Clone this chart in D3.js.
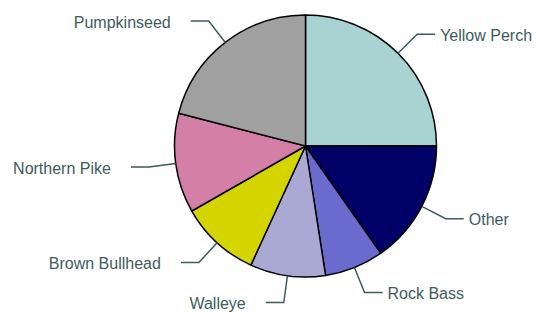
<!DOCTYPE html>
<html>
<head>
<meta charset="utf-8">
<script src="https://cdn.jsdelivr.net/npm/d3@7"></script>
<style>
  body { margin: 0; background: #fff; }
  text { font-family: "Liberation Sans", Arial, sans-serif; }
</style>
</head>
<body>
<div id="chart"></div>
<script>
const width = 539;
const height = 312;

// values (percent of catch), clockwise from 12 o'clock
const species = ["Yellow Perch", "Other", "Rock Bass", "Walleye", "Brown Bullhead", "Northern Pike", "Pumpkinseed"];
const shares = [25, 15.3, 7.3, 9.3, 9.9, 12.3, 21];
const colors = ["#a9d3d3", "#000066", "#6b6bcf", "#a9a9d4", "#d4d400", "#d47fa8", "#a0a0a0"];

const labelColor = "#3d5c5c";

const cx = 305.5, cy = 146;
const radius = 131;
const elbowRadius = 158;
const tail = 18;

const data = species.map((s, i) => ({ name: s, value: shares[i], color: colors[i] }));

const svg = d3.select("#chart")
  .append("svg")
  .attr("width", width)
  .attr("height", height);

const g = svg.append("g")
  .attr("transform", "translate(" + cx + "," + cy + ")");

const pie = d3.pie()
  .value(d => d.value)
  .sort(null);

const arc = d3.arc()
  .innerRadius(0)
  .outerRadius(radius);

const arcs = pie(data);

g.selectAll("path.slice")
  .data(arcs)
  .enter()
  .append("path")
    .attr("class", "slice")
    .attr("d", arc)
    .style("fill", d => d.data.color)
    .style("stroke", "#000")
    .style("stroke-width", 1.5)
    .style("stroke-linejoin", "round");

// leader lines: radial bit out to the elbow, then short horizontal run
function pointAt(angle, r) {
  return [Math.sin(angle) * r, -Math.cos(angle) * r];
}

arcs.forEach(d => {
  const mid = (d.startAngle + d.endAngle) / 2;
  const right = Math.sin(mid) >= 0;
  const p0 = pointAt(mid, radius);
  const p1 = pointAt(mid, elbowRadius);
  const p2 = [p1[0] + (right ? tail : -tail), p1[1]];

  g.append("polyline")
    .attr("points", [p0, p1, p2].map(p => p.join(",")).join(" "))
    .style("fill", "none")
    .style("stroke", labelColor)
    .style("stroke-width", 1.5);

  g.append("text")
    .attr("x", p1[0] + (right ? 23 : -38))
    .attr("y", p1[1] + 1)
    .attr("dy", "0.35em")
    .attr("text-anchor", right ? "start" : "end")
    .style("font-size", "16px")
    .style("fill", labelColor)
    .text(d.data.name);
});
</script>
</body>
</html>
